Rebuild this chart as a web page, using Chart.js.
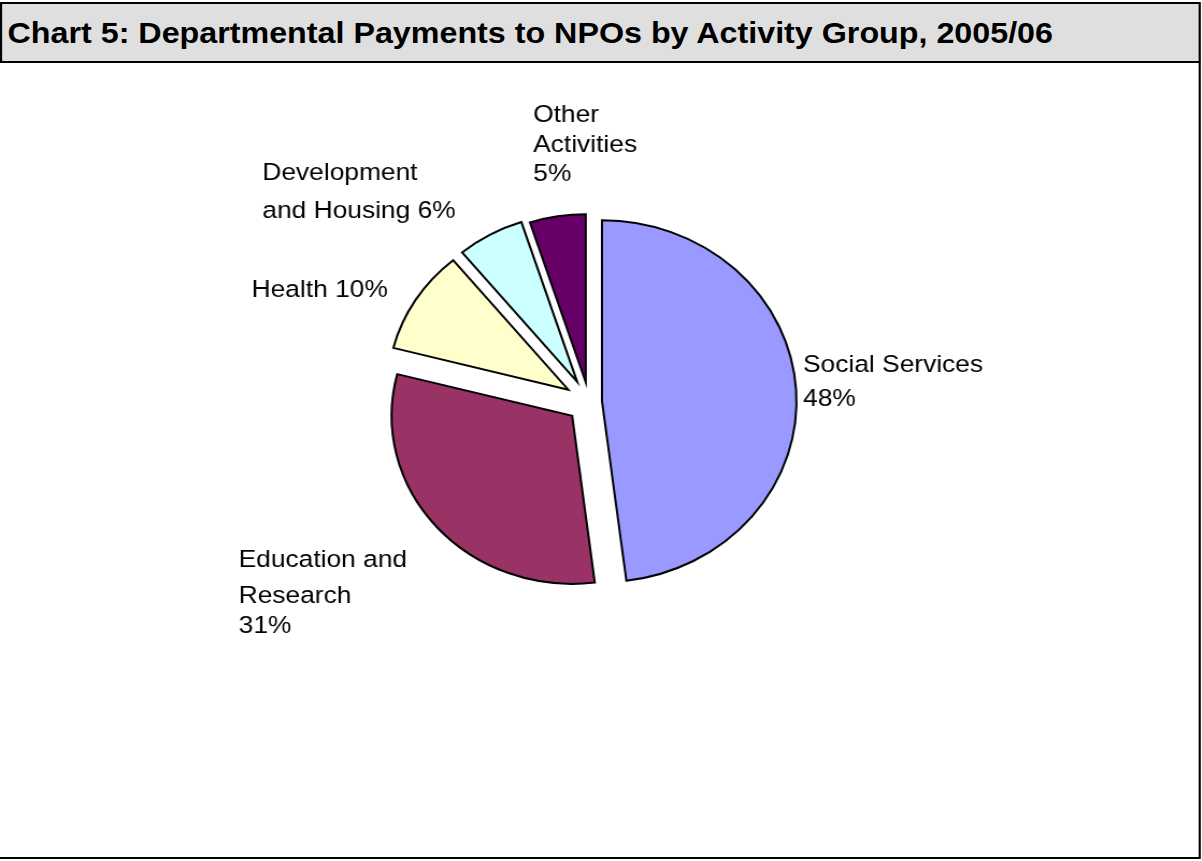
<!DOCTYPE html>
<html>
<head>
<meta charset="utf-8">
<script src="https://cdn.jsdelivr.net/npm/chart.js@4.4.1/dist/chart.umd.min.js"></script>
<style>
  html, body { margin: 0; padding: 0; background: #ffffff; overflow: hidden; }
  #stage { position: absolute; left: 0; top: 0; width: 1118px; height: 861px;
           transform: scaleX(1.075); transform-origin: 0 0; }
  #title { position: absolute; left: 0; top: 2px; width: 1117px; height: 61px; box-sizing: border-box;
           background: #dfdfdf; border: 2px solid #000; padding-left: 5px;
           font: bold 30px "Liberation Sans", Arial, sans-serif; line-height: 57px; color: #000; white-space: nowrap; }
  #frame { position: absolute; left: -5px; top: 61px; width: 1122px; height: 798px; box-sizing: border-box;
           border: 2px solid #000; }
  #chartBox { position: absolute; left: 0; top: 0; width: 1118px; height: 861px; }
</style>
</head>
<body>
<div id="stage">
  <div id="frame"></div>
  <div id="title">Chart 5: Departmental Payments to NPOs by Activity Group, 2005/06</div>
  <div id="chartBox"><canvas id="c"></canvas></div>
</div>
<script>
// ---- data ----
const categories = ['Social Services', 'Education and Research', 'Health', 'Development and Housing', 'Other Activities'];
const shares = [48, 31, 10, 6, 5];
const labelLines = [
  ['Social Services', '48%'],
  ['Education and', 'Research', '31%'],
  ['Health 10%'],
  ['Development', 'and Housing 6%'],
  ['Other', 'Activities', '5%']
];
const sliceColors = ['#9999FF', '#993366', '#FFFFCC', '#CCFFFF', '#660066'];

// ---- layout / style ----
const explode = [12, 21, 23, 23, 20];          // px each slice is pulled out
const radiusScale = [1.077, 1, 1, 1, 1];
// label anchor offsets from pie centre [dx, baseline dy per line]
const labelAnchors = [
  { dx: 199, dy: [-30, 4] },
  { dx: -326, dy: [165, 201, 231] },
  { dx: -314, dy: [-105] },
  { dx: -304, dy: [-222, -184] },
  { dx: -52, dy: [-280, -250, -221] }
];

const explodePlugin = {
  id: 'explode',
  beforeDatasetDraw(chart, args) {
    const ctx = chart.ctx;
    args.meta.data.forEach((arc, i) => {
      const mid = (arc.startAngle + arc.endAngle) / 2;
      const r0 = arc.outerRadius;
      ctx.save();
      ctx.translate(Math.cos(mid) * explode[i], Math.sin(mid) * explode[i]);
      arc.outerRadius = r0 * radiusScale[i];
      arc.draw(ctx);
      arc.outerRadius = r0;
      ctx.restore();
    });
    return false;
  }
};

const labelPlugin = {
  id: 'sliceLabels',
  afterDraw(chart) {
    const ctx = chart.ctx;
    const arc0 = chart.getDatasetMeta(0).data[0];
    const cx = arc0.x, cy = arc0.y;
    ctx.save();
    ctx.font = '24.5px "Liberation Sans", Arial, sans-serif';
    ctx.fillStyle = '#000';
    ctx.textAlign = 'left';
    ctx.textBaseline = 'alphabetic';
    labelLines.forEach((lines, i) => {
      const a = labelAnchors[i];
      lines.forEach((t, j) => ctx.fillText(t, cx + a.dx, cy + a.dy[j]));
    });
    ctx.restore();
  }
};

new Chart(document.getElementById('c'), {
  type: 'pie',
  data: {
    labels: categories,
    datasets: [{
      data: shares,
      backgroundColor: sliceColors,
      borderColor: '#000000',
      borderWidth: 2,
      borderJoinStyle: 'miter'
    }]
  },
  options: {
    responsive: true,
    maintainAspectRatio: false,
    animation: false,
    events: [],
    radius: 168,
    layout: { padding: { left: 0, right: 22, top: 0, bottom: 57 } },
    plugins: { legend: { display: false }, tooltip: { enabled: false }, title: { display: false } }
  },
  plugins: [explodePlugin, labelPlugin]
});
</script>
</body>
</html>
